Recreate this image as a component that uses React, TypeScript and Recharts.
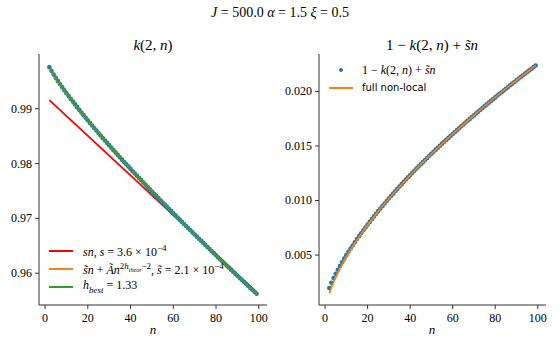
import React from 'react';
import { ComposedChart, Line, XAxis, YAxis } from 'recharts';

// n = 2 .. 99
const nValues = [
  2, 3, 4, 5, 6, 7, 8, 9, 10, 11, 12, 13, 14, 15, 16, 17, 18, 19, 20, 21,
  22, 23, 24, 25, 26, 27, 28, 29, 30, 31, 32, 33, 34, 35, 36, 37, 38, 39, 40, 41,
  42, 43, 44, 45, 46, 47, 48, 49, 50, 51, 52, 53, 54, 55, 56, 57, 58, 59, 60, 61,
  62, 63, 64, 65, 66, 67, 68, 69, 70, 71, 72, 73, 74, 75, 76, 77, 78, 79, 80, 81,
  82, 83, 84, 85, 86, 87, 88, 89, 90, 91, 92, 93, 94, 95, 96, 97, 98, 99,
];

// k(2,n)
const kValues = [
  0.9976, 0.9969, 0.99625, 0.99564, 0.99505, 0.99449, 0.99393, 0.99339, 0.99285, 0.99232,
  0.99181, 0.99131, 0.99081, 0.9903, 0.98981, 0.98933, 0.98884, 0.98837, 0.98789, 0.98742,
  0.98696, 0.98649, 0.98604, 0.98557, 0.98512, 0.98468, 0.98422, 0.98378, 0.98334, 0.98289,
  0.98246, 0.98202, 0.98159, 0.98116, 0.98072, 0.9803, 0.97987, 0.97945, 0.97903, 0.97861,
  0.9782, 0.97778, 0.97737, 0.97696, 0.97654, 0.97614, 0.97573, 0.97532, 0.97492, 0.97451,
  0.97411, 0.97371, 0.97332, 0.97291, 0.97251, 0.97212, 0.97173, 0.97134, 0.97094, 0.97055,
  0.97016, 0.96977, 0.96938, 0.96899, 0.9686, 0.96822, 0.96783, 0.96745, 0.96706, 0.96667,
  0.9663, 0.96591, 0.96554, 0.96515, 0.96477, 0.9644, 0.96402, 0.96365, 0.96327, 0.96288,
  0.96251, 0.96214, 0.96177, 0.96139, 0.96102, 0.96065, 0.96028, 0.95992, 0.95954, 0.95916,
  0.9588, 0.95843, 0.95807, 0.9577, 0.95733, 0.95697, 0.9566, 0.95625,
];

// 1 - k(2,n) + s~n, right panel dots
const residValues = [
  0.00197, 0.00245, 0.00289, 0.00328, 0.00365, 0.004, 0.00434, 0.00467, 0.00499, 0.0053,
  0.0056, 0.00588, 0.00617, 0.00646, 0.00673, 0.007, 0.00727, 0.00753, 0.00779, 0.00804,
  0.00829, 0.00854, 0.00878, 0.00903, 0.00926, 0.00949, 0.00973, 0.00996, 0.01018, 0.01041,
  0.01063, 0.01085, 0.01107, 0.01128, 0.0115, 0.01171, 0.01192, 0.01213, 0.01233, 0.01253,
  0.01273, 0.01293, 0.01313, 0.01332, 0.01352, 0.01371, 0.0139, 0.0141, 0.01428, 0.01447,
  0.01466, 0.01484, 0.01502, 0.01521, 0.01539, 0.01557, 0.01574, 0.01592, 0.0161, 0.01627,
  0.01645, 0.01662, 0.0168, 0.01697, 0.01714, 0.01731, 0.01748, 0.01765, 0.01782, 0.01799,
  0.01815, 0.01832, 0.01848, 0.01865, 0.01881, 0.01897, 0.01913, 0.01929, 0.01945, 0.01962,
  0.01978, 0.01993, 0.02009, 0.02025, 0.0204, 0.02056, 0.02071, 0.02086, 0.02102, 0.02118,
  0.02133, 0.02148, 0.02163, 0.02178, 0.02193, 0.02208, 0.02223, 0.02237,
];

// fitted curves (orange), sampled
const fitN = [2, 3, 4, 5, 6, 7, 8, 10, 12, 14, 16, 18, 20, 25, 30, 35, 40, 45, 50, 60, 70, 80, 90, 99];
const fitK = [
  0.99745, 0.99677, 0.99614, 0.99554, 0.99496, 0.99441, 0.99386, 0.9928, 0.99177, 0.99078,
  0.98979, 0.98882, 0.98788, 0.98557, 0.98334, 0.98116, 0.97903, 0.97696, 0.97492, 0.97094,
  0.96706, 0.96327, 0.95954, 0.95625,
];
const fitResid = [
  0.00147, 0.00202, 0.00251, 0.00295, 0.00336, 0.00375, 0.00412, 0.00482, 0.00547, 0.00607,
  0.00665, 0.00721, 0.00774, 0.009, 0.01016, 0.01126, 0.01231, 0.01331, 0.01427, 0.01609,
  0.01782, 0.01945, 0.02102, 0.02237,
];

// linear sn line (red)
const linN = [2, 99];
const linK = [0.9916, 0.9565];

const xTicks = [0, 20, 40, 60, 80, 100];
const kTicks = [0.96, 0.97, 0.98, 0.99];
const residTicks = [0.005, 0.01, 0.015, 0.02];

const BLUE = '#1f77b4';
const ORANGE = '#ff7f0e';
const GREEN = '#2ca02c';
const RED = '#ff0000';
const SPINE = '#333';
const SERIF = '"Liberation Serif", serif';

const toRows = (xs: number[], ys: number[]) => xs.map((n, i) => ({ n, v: ys[i] }));
const kData = toRows(nValues, kValues);
const residData = toRows(nValues, residValues);
const fitKData = toRows(fitN, fitK);
const fitResidData = toRows(fitN, fitResid);
const linData = toRows(linN, linK);

const xDomain: [number, number] = [-2.85, 103.85];

const dot = (p: any) => <circle key={p.index} cx={p.cx} cy={p.cy} r={2.3} fill={BLUE} stroke="none" />;

const xTick = (p: any) => (
  <text x={p.x} y={p.y + 11} textAnchor="middle" fill="#000" style={{ fontSize: 12, fontFamily: SERIF }}>
    {p.payload.value}
  </text>
);
const yTick = (digits: number) => (p: any) => (
  <text x={p.x - 1} y={p.y + 4} textAnchor="end" fill="#000" style={{ fontSize: 12, fontFamily: SERIF }}>
    {Number(p.payload.value).toFixed(digits)}
  </text>
);

type Series = { data: { n: number; v: number }[]; color: string; dots?: boolean; curve?: 'linear' | 'monotone' };

// Two stacked charts with identical geometry, so the lines sit above the dots.
function Panel({ left, right, domain, ticks, digits, under, over }: {
  left: number; right: number; domain: [number, number]; ticks: number[]; digits: number;
  under: Series[]; over: Series[];
}) {
  const layer = (series: Series[], visible: boolean) => (
    <div style={{ position: 'absolute', left, top: 0 }}>
      <ComposedChart width={280} height={350} margin={{ top: 54, right, bottom: 0, left: 0 }}>
        <XAxis xAxisId="b" type="number" dataKey="n" domain={xDomain} ticks={xTicks} height={45}
          tick={visible ? xTick : false} tickSize={4} tickLine={visible} axisLine={visible} stroke={SPINE} allowDataOverflow />
        <XAxis xAxisId="t" orientation="top" type="number" dataKey="n" domain={xDomain} height={0}
          tick={false} tickLine={false} axisLine={visible} stroke={SPINE} allowDataOverflow />
        <YAxis yAxisId="l" type="number" dataKey="v" domain={domain} ticks={ticks} width={39}
          tick={visible ? yTick(digits) : false} tickSize={4} tickLine={visible} axisLine={visible} stroke={SPINE} allowDataOverflow />
        <YAxis yAxisId="r" orientation="right" type="number" dataKey="v" domain={domain} width={0}
          tick={false} tickLine={false} axisLine={visible} stroke={SPINE} allowDataOverflow />
        {series.map((s, i) => (
          <Line key={i} xAxisId="b" yAxisId="l" data={s.data} dataKey="v"
            stroke={s.dots ? 'none' : s.color} strokeWidth={s.dots ? 0 : 1.8}
            dot={s.dots ? dot : false} activeDot={false} type={s.curve ?? 'linear'} isAnimationActive={false} />
        ))}
      </ComposedChart>
    </div>
  );
  return (
    <>
      {layer(under, true)}
      {layer(over, false)}
    </>
  );
}

function Txt({ x, y, children, center = false, size = 12, font = SERIF }: any) {
  return (
    <div
      style={{
        position: 'absolute',
        left: x,
        top: y,
        transform: center ? 'translate(-50%, -50%)' : 'translateY(-50%)',
        whiteSpace: 'nowrap',
        fontSize: size,
        fontFamily: font,
        lineHeight: 1,
        color: '#000',
      }}
    >
      {children}
    </div>
  );
}

function Swatch({ x, y, color }: { x: number; y: number; color: string }) {
  return (
    <div style={{ position: 'absolute', left: x, top: y - 0.9, width: 24, height: 1.8, background: color }} />
  );
}

export default function App() {
  return (
    <div style={{ position: 'absolute', left: 0, top: 0, width: 560, height: 350, background: '#fff', fontFamily: SERIF }}>
      <Panel left={0} right={13} domain={[0.9542, 1.0]} ticks={kTicks} digits={2}
        under={[{ data: linData, color: RED }, { data: kData, color: BLUE, dots: true }]}
        over={[{ data: fitKData, color: ORANGE, curve: 'monotone' }, { data: kData, color: GREEN }]} />
      <Panel left={280} right={14} domain={[0.00042, 0.02343]} ticks={residTicks} digits={3}
        under={[{ data: residData, color: BLUE, dots: true }]}
        over={[{ data: fitResidData, color: ORANGE, curve: 'monotone' }]} />

      {/* titles */}
      <Txt x={280} y={13} center size={14}>
        <i>J</i> = 500.0 <i>α</i> = 1.5 <i>ξ</i> = 0.5
      </Txt>
      <Txt x={153} y={45} center size={15}>
        <i>k</i>(2, <i>n</i>)
      </Txt>
      <Txt x={432} y={45} center size={15}>
        1 − <i>k</i>(2, <i>n</i>) + <i>s̃n</i>
      </Txt>
      <Txt x={153} y={329} center size={13}><i>n</i></Txt>
      <Txt x={432} y={329} center size={13}><i>n</i></Txt>

      {/* left legend */}
      <Swatch x={49} y={251} color={RED} />
      <Txt x={83} y={251}>
        <i>sn</i>, <i>s</i> = 3.6 × 10<sup style={{ fontSize: 9 }}>−4</sup>
      </Txt>
      <Swatch x={49} y={269} color={ORANGE} />
      <Txt x={83} y={269}>
        <i>s̃n</i> + <i>Ãn</i>
        <sup style={{ fontSize: 9 }}>
          2<i>h</i><sub style={{ fontSize: 6 }}><i>theor</i></sub>−2
        </sup>
        , <i>s̃</i> = 2.1 × 10<sup style={{ fontSize: 9 }}>−4</sup>
      </Txt>
      <Swatch x={49} y={287} color={GREEN} />
      <Txt x={83} y={287}>
        <i>h</i><sub style={{ fontSize: 9 }}><i>best</i></sub> = 1.33
      </Txt>

      {/* right legend */}
      <div style={{ position: 'absolute', left: 339, top: 68, width: 4, height: 4, borderRadius: 2, background: BLUE }} />
      <Txt x={362} y={70}>
        1 − <i>k</i>(2, <i>n</i>) + <i>s̃n</i>
      </Txt>
      <Swatch x={329} y={88} color={ORANGE} />
      <Txt x={362} y={88} size={10} font={'"DejaVu Sans", sans-serif'}>
        full non-local
      </Txt>
    </div>
  );
}
